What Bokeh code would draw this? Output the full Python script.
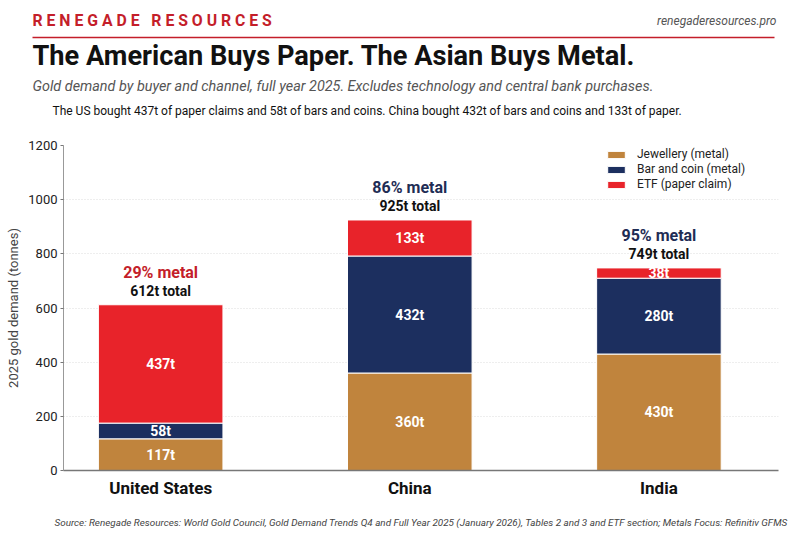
from bokeh.plotting import figure
from bokeh.models import (ColumnDataSource, FixedTicker, Range1d, Legend, LegendItem)
from bokeh.layouts import column
from bokeh.embed import file_html
from bokeh.resources import INLINE
from bokeh.core.properties import value

# ---- data ----
countries = ["United States", "China", "India"]
jewellery = [117, 360, 430]
bar_coin = [58, 432, 280]
etf = [437, 133, 38]
totals = [612, 925, 749]
metal_pct = [29, 86, 95]
y_ticks = [0, 200, 400, 600, 800, 1000, 1200]
series_names = ["Jewellery (metal)", "Bar and coin (metal)", "ETF (paper claim)"]

C_JEW = "#c0843d"
C_BAR = "#1c2f5f"
C_ETF = "#e8232a"
C_RED = "#c41e2a"
C_NAVY = "#1f2d55"
FONT = "Roboto"
W = 794
H_HEAD, H_MAIN, H_FOOT = 138, 370, 30


def blank(h):
    f = figure(width=W, height=h, output_backend="svg", toolbar_location=None,
               x_range=Range1d(0, W), y_range=Range1d(h, 0),
               min_border=0, min_border_left=0, min_border_right=0,
               min_border_top=0, min_border_bottom=0, frame_align=False)
    f.axis.visible = False
    f.grid.grid_line_color = None
    f.outline_line_color = None
    return f


def txt(f, x, y, t, size, color="#111111", style="normal", align="left"):
    f.text(x=[x], y=[y], text=[t], text_font=value(FONT), text_font_size=size,
           text_color=color, text_font_style=style, text_align=align,
           text_baseline="middle")


# ---- header ----
head = blank(H_HEAD)
txt(head, 32, 20, "R E N E G A D E \u00a0 R E S O U R C E S", "15.8px", C_RED, "bold")
txt(head, 776, 20, "renegaderesources.pro", "12px", "#555555", "italic", "right")
head.segment(x0=[32], y0=[37], x1=[774], y1=[37], line_color=C_RED, line_width=1.5)
txt(head, 32, 55, "The American Buys Paper. The Asian Buys Metal.", "27.2px", "#111111", "bold")
txt(head, 32, 86, "Gold demand by buyer and channel, full year 2025. Excludes technology and central bank purchases.",
    "14.4px", "#555555", "italic")
txt(head, 52, 110, "The US bought 437t of paper claims and 58t of bars and coins. China bought 432t of bars and coins and 133t of paper.",
    "12px", "#111111")

# ---- main chart ----
p = figure(width=W, height=H_MAIN, output_backend="svg", toolbar_location=None,
           x_range=Range1d(-0.39, 2.48), y_range=Range1d(0, 1200),
           min_border_left=63, min_border_right=16, min_border_top=7,
           min_border_bottom=38, frame_align=False)
p.outline_line_color = None

xs = list(range(len(countries)))
bw = 0.5
j_top = jewellery
b_top = [a + b for a, b in zip(jewellery, bar_coin)]
e_top = [a + b for a, b in zip(b_top, etf)]
src = ColumnDataSource(dict(x=xs, j0=[0] * 3, j1=j_top, b1=b_top, e1=e_top))

r1 = p.vbar(x="x", bottom="j0", top="j1", width=bw, source=src, fill_color=C_JEW,
            line_color="white", line_width=1)
r2 = p.vbar(x="x", bottom="j1", top="b1", width=bw, source=src, fill_color=C_BAR,
            line_color="white", line_width=1)
r3 = p.vbar(x="x", bottom="b1", top="e1", width=bw, source=src, fill_color=C_ETF,
            line_color="white", line_width=1)

lx, ly, lt = [], [], []
for i in xs:
    for lo, hi, v in [(0, j_top[i], jewellery[i]), (j_top[i], b_top[i], bar_coin[i]),
                      (b_top[i], e_top[i], etf[i])]:
        lx.append(i); ly.append((lo + hi) / 2); lt.append(f"{v}t")
p.text(x=lx, y=ly, text=lt, text_color="white", text_font=value(FONT),
       text_font_style="bold", text_font_size="14px", text_align="center",
       text_baseline="middle")

p.text(x=xs, y=e_top, text=[f"{t}t total" for t in totals], text_color="#111111",
       text_font=value(FONT), text_font_style="bold", text_font_size="14px",
       text_align="center", text_baseline="bottom", y_offset=-6)
p.text(x=xs, y=e_top, text=[f"{m}% metal" for m in metal_pct],
       text_color=[C_RED, C_NAVY, C_NAVY], text_font=value(FONT),
       text_font_style="bold", text_font_size="16px", text_align="center",
       text_baseline="bottom", y_offset=-23)

p.xaxis.ticker = FixedTicker(ticks=xs)
p.xaxis.major_label_overrides = {i: c for i, c in enumerate(countries)}
p.xaxis.major_label_text_font = FONT
p.xaxis.major_label_text_font_style = "bold"
p.xaxis.major_label_text_font_size = "17px"
p.xaxis.major_label_text_color = "#111111"
p.xaxis.major_tick_line_color = None
p.xaxis.minor_tick_line_color = None
p.xaxis.axis_line_color = "#777777"
p.xaxis.axis_line_width = 1.5
p.xaxis.major_label_standoff = 1

p.yaxis.ticker = FixedTicker(ticks=y_ticks)
p.yaxis.major_label_text_font = FONT
p.yaxis.major_label_text_font_size = "13px"
p.yaxis.major_label_text_color = "#222222"
p.yaxis.major_label_standoff = 3
p.yaxis.minor_tick_line_color = None
p.yaxis.major_tick_line_color = "#777777"
p.yaxis.major_tick_out = 3
p.yaxis.major_tick_in = 0
p.yaxis.axis_line_color = "#999999"
p.yaxis.axis_label = "2025 gold demand (tonnes)"
p.yaxis.axis_label_text_font = FONT
p.yaxis.axis_label_text_font_size = "13px"
p.yaxis.axis_label_text_font_style = "normal"
p.yaxis.axis_label_text_color = "#444444"
p.yaxis.axis_label_standoff = 4

p.xgrid.grid_line_color = None
p.ygrid.grid_line_color = "#dddddd"
p.ygrid.grid_line_dash = "1 2"

legend = Legend(items=[LegendItem(label=series_names[0], renderers=[r1]),
                       LegendItem(label=series_names[1], renderers=[r2]),
                       LegendItem(label=series_names[2], renderers=[r3])],
                location=(542, 279), border_line_color=None,
                background_fill_alpha=0.0, label_text_font=FONT,
                label_text_font_size="12px", label_text_color="#222222",
                glyph_width=22, glyph_height=9, spacing=1, padding=0,
                margin=0, label_height=14, label_standoff=10)
p.add_layout(legend)

# ---- footer ----
foot = blank(H_FOOT)
txt(foot, 54, 14, "Source: Renegade Resources: World Gold Council, Gold Demand Trends Q4 and Full Year 2025 (January 2026), Tables 2 and 3 and ETF section; Metals Focus: Refinitiv GFMS",
    "9.9px", "#444444", "italic")

layout = column(head, p, foot, spacing=0)
open("out.html", "w").write(file_html(layout, INLINE))
